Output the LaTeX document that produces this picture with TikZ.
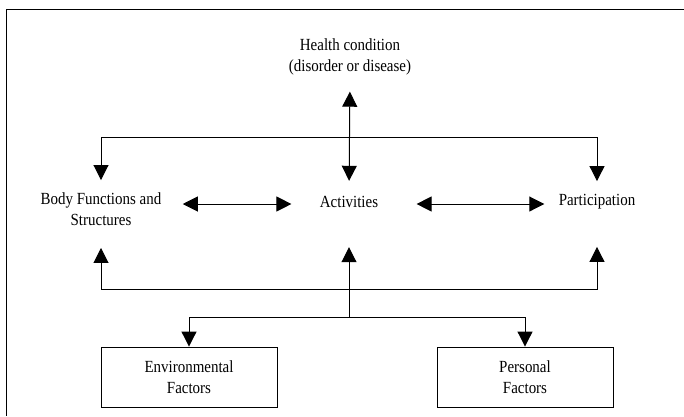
\documentclass[tikz,border=0pt]{standalone}
\usepackage{fontspec}
\setmainfont{Liberation Serif}[FakeStretch=0.88]
\usetikzlibrary{arrows.meta}
\begin{document}
\begin{tikzpicture}[x=1pt,y=-1pt,line width=1pt,
  tip/.style={-{Triangle[length=15pt,width=15pt]}},
  tips/.style={{Triangle[length=15pt,width=15pt]}-{Triangle[length=15pt,width=15pt]}},
  lbl/.style={font=\fontsize{17}{21}\selectfont,align=center,inner sep=0pt},
  boxn/.style={draw,line width=0.9pt,minimum width=176pt,minimum height=60pt,align=center,inner sep=0pt,font=\fontsize{17}{21.5}\selectfont}]
\useasboundingbox (0,0) rectangle (684,416);
\draw (684,9) -- (6,9) -- (6,416);
\node[lbl] (hc) at (350,57) {Health condition\\(disorder or disease)};
\node[lbl] (body) at (101,209) {Body Functions and\\Structures};
\node[lbl] (act) at (349,202) {Activities};
\node[lbl] (part) at (597,202) {Participation};
\node[boxn] (env) at (189,377) {Environmental\\Factors};
\node[boxn] (pers) at (525,377) {Personal\\Factors};
\coordinate (top) at (349,137);
\coordinate (bot) at (349,289);
\coordinate (split) at (349,317);
% health <-> activities
\draw[tips,shorten <=15pt,shorten >=16pt] (act.north) -- (hc.south);
\draw[tip,shorten >=12pt] (top) -| (body.north);
\draw[tip,shorten >=13pt] (top) -| (part.north);
% bottom
\draw[tip,shorten >=22pt] (bot) -| (body.south);
\draw[tip,shorten >=37pt] (bot) -| (part.south);
\draw[tip,shorten >=39pt] (bot) -- (act.south);
\draw (bot) -- (split);
\draw[tip] (split) -| (env.north);
\draw[tip] (split) -| (pers.north);
% horizontal
\draw[tips,shorten <=21pt,shorten >=28pt] ([yshift=5pt]body.east) -- ([yshift=5pt]body.east -| act.west);
\draw[tips,shorten <=38pt,shorten >=14pt] ([yshift=-2pt]act.east) -- ([yshift=-2pt]act.east -| part.west);
\end{tikzpicture}
\end{document}
